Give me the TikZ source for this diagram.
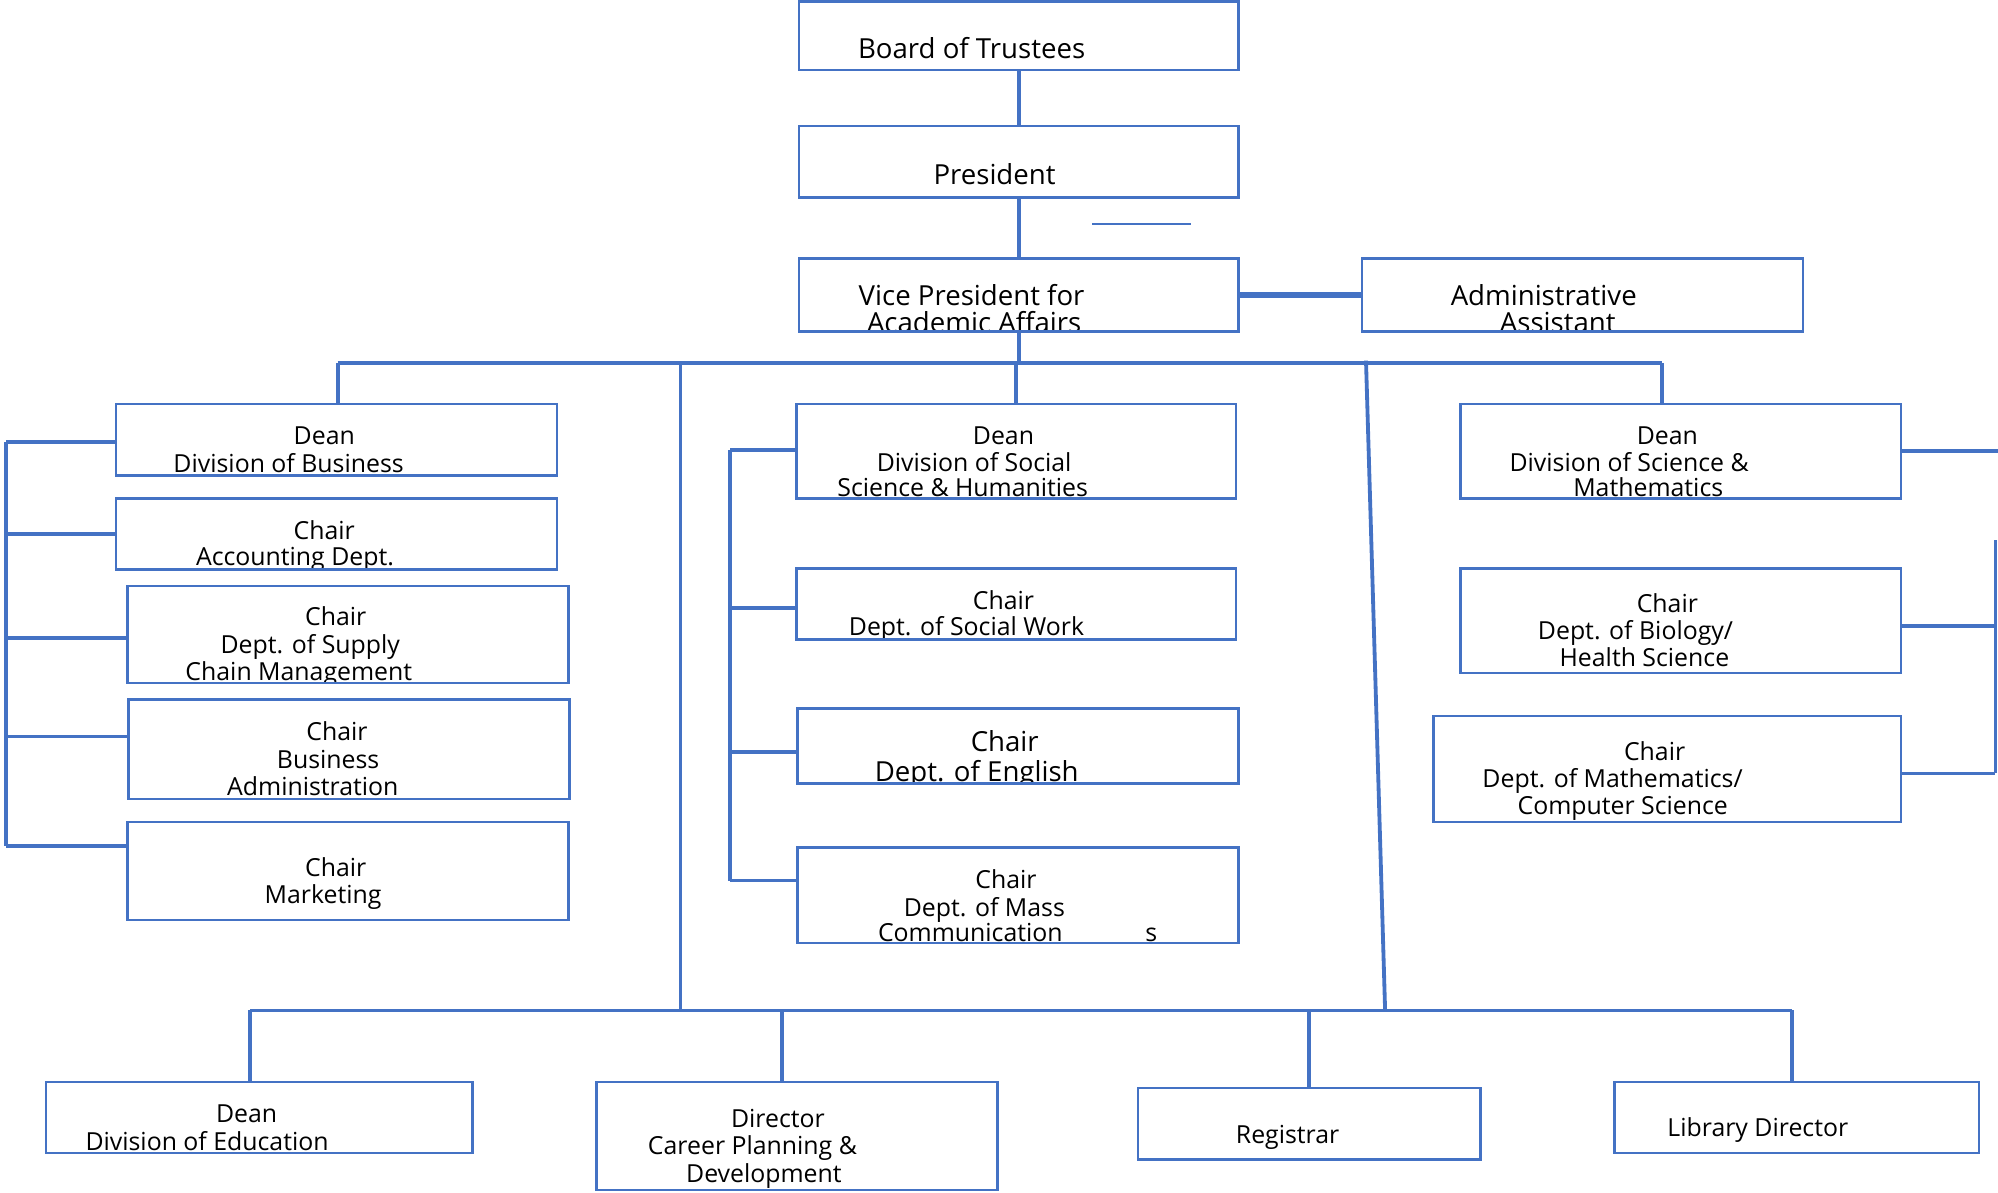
\documentclass[tikz,border=0pt]{standalone}
\usepackage{fontspec}
\setmainfont{Open Sans}
\definecolor{bl}{HTML}{4472C4}
\tikzset{
  box/.style={draw=bl, fill=white, line width=1.2pt, rectangle, inner sep=0pt, outer sep=0pt},
  conn/.style={draw=bl, line width=1.8pt},
  txt/.style={anchor=base, inner sep=0pt, draw=none, fill=none, text=black, font=\fontsize{11.7}{14}\selectfont},
  big/.style={font=\fontsize{13}{16}\selectfont},
}
\newcommand\tline[4][]{\node[txt,#1] at ([shift={({#2+0.5-\bxa},{#3+1-\bya})}]path picture bounding box.north west) {#4};}
\newcommand\mybox[6]{\def\bxa{#2}\def\bya{#3}%
  \node[box, minimum width={(#4-#2)*0.6pt}, minimum height={(#5-#3)*0.6pt}, path picture={#6}] (#1) at ({(#2+#4)/2},{(#3+#5)/2}) {};}
\begin{document}
\begin{tikzpicture}[x=0.6pt, y=-0.6pt]
\useasboundingbox (0,0) rectangle (1568,935.5);
% top
\mybox{bot}{627}{1}{972}{55}{\tline[big]{762}{45}{Board of Trustees}}
\mybox{pres}{627}{99}{972}{155}{\tline[big]{780}{144}{President}}
\mybox{vp}{627}{203}{972}{260}{\tline[big]{762}{239}{Vice President for}\tline[big]{764}{260}{Academic Affairs}}
\mybox{aa}{1069}{203}{1415}{260}{\tline[big]{1211}{239}{Administrative}\tline[big]{1222}{260}{Assistant}}
% left column
\mybox{dbus}{91}{317}{437}{373}{\tline{254}{348}{Dean}\tline{226}{370}{Division of Business}}
\mybox{acc}{91}{391}{437}{447}{\tline{254}{422}{Chair}\tline{231}{443}{Accounting Dept.}}
\mybox{scm}{100}{460}{446}{536}{\tline{263}{490}{Chair}\tline{243}{512}{Dept. of Supply}\tline{234}{533}{Chain Management}}
\mybox{bad}{101}{549}{447}{627}{\tline{264}{580}{Chair}\tline{257}{602}{Business}\tline{245}{623}{Administration}}
\mybox{mkt}{100}{645}{446}{722}{\tline{263}{687}{Chair}\tline{253}{708}{Marketing}}
% middle column
\mybox{dsoc}{625}{317}{970}{391}{\tline{787}{348}{Dean}\tline{764}{369}{Division of Social}\tline{755}{389}{Science \& Humanities}}
\mybox{sw}{625}{446}{970}{502}{\tline{787}{477}{Chair}\tline{758}{498}{Dept. of Social Work}}
\mybox{eng}{626}{556}{972}{615}{\tline[big]{788}{589}{Chair}\tline[big]{766}{612}{Dept. of English}}
\mybox{mc}{626}{665}{972}{740}{\tline{789}{696}{Chair}\tline{772}{718}{Dept. of Mass}\tline{761}{738}{Communication}\tline{903}{738}{s}}
% right column
\mybox{dsci}{1146}{317}{1492}{391}{\tline{1308}{348}{Dean}\tline{1278}{369}{Division of Science \&}\tline{1293}{389}{Mathematics}}
\mybox{bio}{1146}{446}{1492}{528}{\tline{1308}{480}{Chair}\tline{1283}{501}{Dept. of Biology/}\tline{1290}{522}{Health Science}}
\mybox{mcs}{1125}{562}{1492}{645}{\tline{1298}{596}{Chair}\tline{1265}{617}{Dept. of Mathematics/}\tline{1273}{638}{Computer Science}}
% bottom row
\mybox{ded}{36}{849}{371}{905}{\tline{193}{880}{Dean}\tline{162}{902}{Division of Education}}
\mybox{dir}{468}{849}{783}{934}{\tline{610}{884}{Director}\tline{590}{905}{Career Planning \&}\tline{599}{927}{Development}}
\mybox{reg}{893}{854}{1162}{910}{\tline{1010}{896}{Registrar}}
\mybox{lib}{1267}{849}{1553}{905}{\tline{1379}{891}{Library Director}}
% coordinates
\coordinate (hL) at (265,285); \coordinate (hR) at (1304,285);
\coordinate (hM) at (534,285); \coordinate (bM) at (534,793);
\coordinate (sT) at (1072,283); \coordinate (sB) at (1087,793);
\coordinate (bL) at (196,793); \coordinate (bR) at (1406,793);
\coordinate (bD) at (614,793); \coordinate (bG) at (1027,793);
\coordinate (l1) at (5,347); \coordinate (l2) at (5,419); \coordinate (l3) at (5,501);
\coordinate (l4) at (5,578); \coordinate (l5) at (5,664);
\coordinate (m1) at (573,353); \coordinate (m2) at (573,477); \coordinate (m3) at (573,590); \coordinate (m4) at (573,691);
\coordinate (r0) at (1568,354); \coordinate (r1) at (1566,424); \coordinate (r2) at (1566,491); \coordinate (r3) at (1566,607);
\coordinate (st1) at (857,176); \coordinate (st2) at (935,176);
% connectors
\draw[conn] (bot) -- (pres);
\draw[conn] (pres) -- (vp);
\draw[conn, line width=2.6pt] (vp) -- (aa);
\draw[conn] (vp.south) -- (vp.south |- hL);
\draw[conn] (hL) -- (hR);
\draw[conn] (hL) -- (hL |- dbus.north);
\draw[conn] (dsoc.north) -- (dsoc.north |- hL);
\draw[conn] (hR) -- (hR |- dsci.north);
\draw[conn] (hM) -- (bM);
\draw[conn] (sT) -- (sB);
\draw[conn] (bL) -- (bR);
\draw[conn] (bL) -- (bL |- ded.north);
\draw[conn] (bD) -- (bD |- dir.north);
\draw[conn] (bG) -- (bG |- reg.north);
\draw[conn] (bR) -- (bR |- lib.north);
% left bracket
\draw[conn] (l1) -- (l5);
\draw[conn] (l1) -- (l1 -| dbus.west);
\draw[conn] (l2) -- (l2 -| acc.west);
\draw[conn] (l3) -- (l3 -| scm.west);
\draw[conn] (l4) -- (l4 -| bad.west);
\draw[conn] (l5) -- (l5 -| mkt.west);
% middle bracket
\draw[conn] (m1) -- (m4);
\draw[conn] (m1) -- (m1 -| dsoc.west);
\draw[conn] (m2) -- (m2 -| sw.west);
\draw[conn] (m3) -- (m3 -| eng.west);
\draw[conn] (m4) -- (m4 -| mc.west);
% right bracket
\draw[conn] (dsci.east |- r0) -- (r0);
\draw[conn] (r1) -- (r3);
\draw[conn] (r2 -| bio.east) -- (r2);
\draw[conn] (r3 -| mcs.east) -- (r3);
% stray short line
\draw[draw=bl, line width=0.9pt] (st1) -- (st2);
\end{tikzpicture}
\end{document}
